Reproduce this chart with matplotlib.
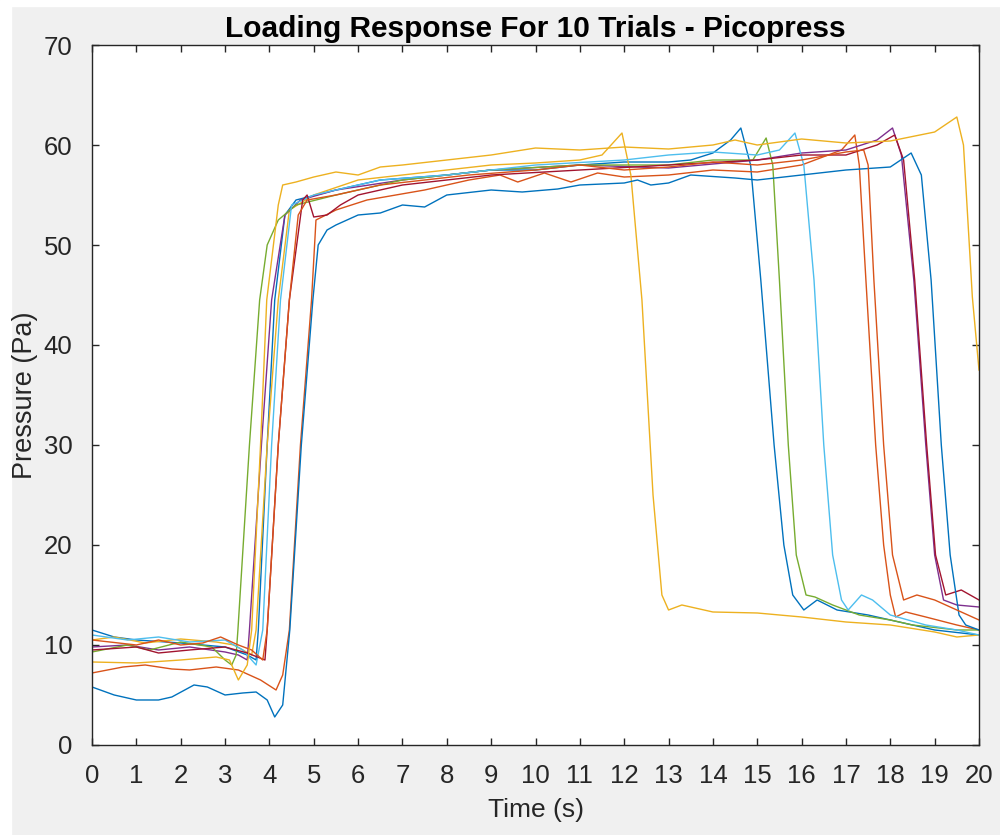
import matplotlib.pyplot as plt
from matplotlib.patches import Rectangle

# Pressure traces (time in s, pressure in Pa)
t1 = [0, 0.5, 1, 2, 3, 3.5, 3.7, 3.75, 3.95, 4.12, 4.35, 4.6, 5.5, 6.5, 8, 9, 10, 11, 12, 13, 13.5, 14, 14.4,
      14.63, 14.85, 15.08, 15.38, 15.6, 15.8, 16.05, 16.35, 16.8, 17.5, 18, 18.5, 19, 20]
p1 = [11.5, 10.8, 10.5, 10.2, 9.8, 9, 8.5, 11.5, 30, 44.5, 53, 54.5, 55.5, 56.5, 57, 57.5, 57.5, 58, 58.3, 58.3, 58.5,
      59.2, 60.5, 61.7, 58, 46.5, 30, 20, 15, 13.5, 14.5, 13.5, 13, 12.5, 12, 11.5, 11]

t2 = [0, 0.7, 1.2, 1.8, 2.2, 2.8, 3.3, 3.8, 4.15, 4.3, 4.45, 4.7, 4.95, 5.05, 5.5, 6.2, 7.5, 8.5, 9.2, 9.6, 10.2,
      10.8, 11.4, 12, 13, 14, 15, 16, 16.9, 17.2, 17.3, 17.45, 17.67, 17.85, 18.0, 18.12, 18.35, 18.8, 19.5, 20]
p2 = [7.2, 7.8, 8, 7.6, 7.5, 7.8, 7.5, 6.5, 5.5, 7, 11.5, 30, 44.5, 52.5, 53.5, 54.5, 55.5, 56.5, 57, 56.3, 57.2,
      56.3, 57.2, 56.8, 57, 57.5, 57.3, 58, 59.5, 61, 58, 46.5, 30, 20, 15, 12.8, 13.3, 12.8, 12, 11.5]

t3 = [0, 0.5, 1.2, 2, 2.8, 3.2, 3.6, 3.7, 3.95, 4.2, 4.45, 5, 6, 7, 8, 9, 10, 11, 11.5, 11.95, 12.15, 12.4,
      12.65, 12.85, 13.0, 13.3, 14, 15, 16, 17, 18, 19, 19.5, 20]
p3 = [10.5, 10.8, 10.2, 10.6, 10.3, 10, 9, 11.5, 30, 44.5, 53.5, 55, 56.5, 57, 57.5, 58, 58.2, 58.5, 59, 61.2, 57,
      44.5, 25, 15, 13.5, 14, 13.3, 13.2, 12.8, 12.3, 12, 11.3, 10.8, 11]

t4 = [0, 0.8, 1.5, 2.2, 3, 3.3, 3.5, 3.55, 3.82, 4.05, 4.35, 4.7, 5.5, 7, 9, 11, 13, 15, 16, 17, 17.7, 18.05,
      18.25, 18.53, 18.8, 19.0, 19.2, 19.5, 20]
p4 = [9.8, 10, 9.5, 9.8, 9.3, 9, 8.5, 11.5, 30, 44.5, 53, 54.5, 55.5, 56.5, 57.5, 58, 57.7, 58.5, 59.2, 59.5, 60.5,
      61.7, 59, 46.5, 30, 19, 14.5, 14, 13.8]

t5 = [0, 0.8, 1.3, 2, 2.7, 3.0, 3.15, 3.25, 3.29, 3.55, 3.78, 3.95, 4.2, 4.6, 5.5, 7, 9, 11, 13, 14, 14.9, 15.2,
      15.35, 15.5, 15.7, 15.88, 16.1, 16.3, 16.7, 17.3, 18, 18.5, 19.5, 20]
p5 = [9.3, 10, 9.5, 10.3, 9.8, 8.5, 8, 9, 11.5, 30, 44.5, 50, 52.5, 54, 55, 56.5, 57.5, 58, 58, 58.5, 58.5, 60.7,
      58, 46.5, 30, 19, 15, 14.8, 14, 13, 12.5, 12, 11.5, 11.5]

t6 = [0, 0.8, 1.5, 2.2, 3, 3.4, 3.7, 3.85, 4.05, 4.25, 4.5, 5, 6.5, 8, 10, 12, 13, 14, 15, 15.5, 15.85, 16.05,
      16.28, 16.5, 16.7, 16.9, 17.05, 17.35, 17.6, 18, 18.8, 19.5, 20]
p6 = [11, 10.5, 10.8, 10.3, 10.5, 9.5, 8, 11.5, 30, 44.5, 54, 55, 56.5, 57, 58, 58.5, 59, 59.3, 59, 59.5, 61.2, 58,
      46.5, 30, 19, 14.5, 13.5, 15, 14.5, 13, 12, 11.5, 11]

t7 = [0, 1, 1.5, 2.2, 3, 3.5, 3.9, 3.95, 4.2, 4.45, 4.75, 4.85, 5.0, 5.3, 5.6, 6, 7, 9, 11, 13, 15, 16, 17,
      17.7, 18.1, 18.3, 18.55, 18.82, 19.02, 19.25, 19.6, 20]
p7 = [9.5, 9.8, 9.2, 9.5, 9.8, 9.2, 8.5, 11.5, 30, 44.5, 54.5, 55, 52.8, 53, 54, 55, 56, 57, 57.5, 58, 58.5, 59,
      59, 60, 61, 58.5, 46.5, 30, 19, 15, 15.5, 14.5]

t8 = [0, 0.5, 1, 1.5, 1.8, 2.3, 2.6, 3, 3.4, 3.7, 3.95, 4.12, 4.3, 4.46, 4.72, 4.98, 5.1, 5.3, 5.5, 6, 6.5, 7,
      7.5, 8, 9, 9.7, 10.5, 11, 12, 12.3, 12.6, 13, 13.5, 14.5, 15, 16, 17, 18, 18.47, 18.7, 18.92, 19.15,
      19.35, 19.55, 19.7, 20]
p8 = [5.8, 5, 4.5, 4.5, 4.8, 6, 5.8, 5, 5.2, 5.3, 4.5, 2.8, 4, 11.5, 30, 44.5, 50, 51.5, 52, 53, 53.2, 54, 53.8,
      55, 55.5, 55.3, 55.6, 56, 56.2, 56.5, 56, 56.2, 57, 56.7, 56.5, 57, 57.5, 57.8, 59.2, 57, 46.5, 30, 19,
      13, 12, 11.5]

t9 = [0, 1, 1.5, 2, 2.5, 2.9, 3.3, 3.6, 3.85, 3.95, 4.2, 4.45, 4.65, 4.85, 5.5, 6.5, 7.5, 8.5, 10, 11, 12, 13,
      14, 15, 16, 17, 17.4, 17.5, 17.63, 17.85, 18.05, 18.3, 18.6, 19, 19.5, 20]
p9 = [10.5, 10, 10.5, 10, 10.2, 10.8, 10, 9.5, 8.5, 11.5, 30, 44.5, 53, 54.5, 55, 56, 56.5, 57, 57.5, 58, 57.5,
      57.8, 58.3, 58, 58.5, 59.3, 59.5, 58, 46.5, 30, 19, 14.5, 15, 14.5, 13.5, 12.5]

t10 = [0, 1, 2, 2.8, 3.1, 3.3, 3.5, 3.6, 3.8, 3.94, 4.2, 4.3, 4.6, 5, 5.5, 6, 6.5, 7, 8, 9, 10, 11, 12, 13, 14,
       14.5, 15, 16, 17, 18, 19, 19.5, 19.65, 19.85, 20]
p10 = [8.3, 8.2, 8.5, 8.8, 8.5, 6.5, 8, 11.5, 30, 44.5, 54, 56, 56.3, 56.8, 57.3, 57, 57.8, 58, 58.5, 59, 59.7,
       59.5, 59.8, 59.6, 60, 60.5, 60, 60.6, 60.2, 60.4, 61.3, 62.8, 60, 44.8, 37.5]

times = [t1, t2, t3, t4, t5, t6, t7, t8, t9, t10]
pressures = [p1, p2, p3, p4, p5, p6, p7, p8, p9, p10]

# MATLAB default line colours
colors = ['#0072BD', '#D95319', '#EDB120', '#7E2F8E', '#77AC30', '#4DBEEE', '#A2142F']

plt.rcParams['font.family'] = ['Liberation Sans', 'DejaVu Sans']

fig = plt.figure(figsize=(10, 8.35), dpi=100, facecolor='#f0f0f0')
# thin white margin on the left and top of the captured window
fig.patches.append(Rectangle((0, 0), 0.011, 1, transform=fig.transFigure, color='white', zorder=-1))
fig.patches.append(Rectangle((0, 0.993), 1, 0.007, transform=fig.transFigure, color='white', zorder=-1))

ax = fig.add_axes([0.092, 0.1078, 0.887, 0.8383])
ax.set_facecolor('white')

for i in range(len(times)):
    ax.plot(times[i], pressures[i], color=colors[i % 7], linewidth=1.0)

ax.set_xlim(0, 20)
ax.set_ylim(0, 70)
ax.set_xticks(range(0, 21))
ax.set_yticks(range(0, 71, 10))

axis_color = '#262626'
for s in ax.spines.values():
    s.set_color(axis_color)
    s.set_linewidth(1.0)
ax.tick_params(axis='both', direction='in', length=5, width=1.0, colors=axis_color,
               labelsize=18.5, top=True, right=True)
ax.tick_params(axis='x', pad=14)
ax.tick_params(axis='y', pad=14)

ax.set_title('Loading Response For 10 Trials - Picopress', fontsize=21.5, fontweight='bold', pad=6)
ax.set_xlabel('Time (s)', fontsize=19, color=axis_color, labelpad=7)
ax.set_ylabel('Pressure (Pa)', fontsize=19.5, color=axis_color, labelpad=4)

fig.savefig('out.png', dpi=100, facecolor=fig.get_facecolor())
